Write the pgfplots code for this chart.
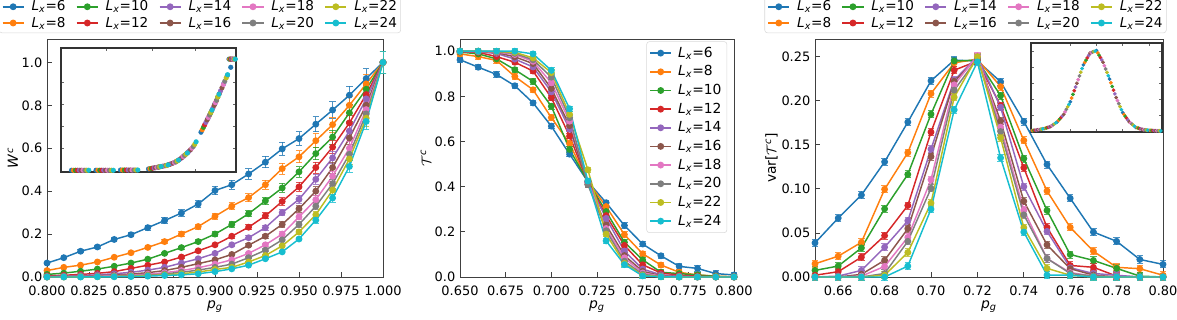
\documentclass[border=0pt]{standalone}
\usepackage{pgfplots}
\pgfplotsset{compat=1.18}
\usepackage{pgfplotstable}
\usepackage{fontspec}
\setmainfont{DejaVu Sans}
\definecolor{c0}{HTML}{1F77B4}
\definecolor{c1}{HTML}{FF7F0E}
\definecolor{c2}{HTML}{2CA02C}
\definecolor{c3}{HTML}{D62728}
\definecolor{c4}{HTML}{9467BD}
\definecolor{c5}{HTML}{8C564B}
\definecolor{c6}{HTML}{E377C2}
\definecolor{c7}{HTML}{7F7F7F}
\definecolor{c8}{HTML}{BCBD22}
\definecolor{c9}{HTML}{17BECF}

\newcommand{\Lx}[1]{\textit{L}\textsubscript{\textit{x}}=#1}

\pgfplotstableread{
x    a6    a8    a10   a12   a14   a16   a18   a20   a22   a24
0.80 0.065 0.030 0.012 0.005 0.003 0.001 0.000 0.000 0.000 0.000
0.81 0.090 0.045 0.018 0.008 0.004 0.002 0.001 0.001 0.000 0.000
0.82 0.120 0.055 0.027 0.012 0.007 0.004 0.002 0.001 0.001 0.000
0.83 0.140 0.070 0.037 0.017 0.010 0.006 0.004 0.002 0.001 0.001
0.84 0.175 0.092 0.050 0.025 0.015 0.009 0.006 0.004 0.002 0.001
0.85 0.197 0.113 0.065 0.040 0.022 0.014 0.009 0.006 0.004 0.002
0.86 0.230 0.138 0.083 0.055 0.032 0.020 0.013 0.009 0.006 0.004
0.87 0.263 0.165 0.110 0.070 0.045 0.030 0.020 0.014 0.010 0.007
0.88 0.298 0.200 0.137 0.093 0.065 0.045 0.030 0.022 0.015 0.010
0.89 0.340 0.235 0.165 0.122 0.085 0.062 0.043 0.032 0.023 0.015
0.90 0.403 0.283 0.200 0.150 0.110 0.080 0.060 0.045 0.035 0.025
0.91 0.430 0.330 0.245 0.190 0.150 0.105 0.080 0.060 0.045 0.038
0.92 0.480 0.370 0.295 0.232 0.183 0.148 0.110 0.090 0.070 0.055
0.93 0.535 0.430 0.355 0.285 0.230 0.190 0.150 0.125 0.100 0.085
0.94 0.597 0.505 0.415 0.352 0.300 0.245 0.200 0.173 0.145 0.117
0.95 0.645 0.560 0.490 0.420 0.362 0.318 0.280 0.245 0.210 0.177
0.96 0.712 0.635 0.575 0.510 0.455 0.400 0.360 0.330 0.290 0.265
0.97 0.778 0.710 0.652 0.605 0.555 0.510 0.470 0.435 0.405 0.368
0.98 0.847 0.800 0.765 0.718 0.680 0.648 0.600 0.572 0.550 0.515
0.99 0.925 0.900 0.875 0.850 0.830 0.800 0.780 0.760 0.740 0.725
1.00 1.000 1.000 1.000 1.000 1.000 1.000 1.000 1.000 1.000 1.000
}\tabW

\pgfplotstableread{
x    a6    a8    a10   a12   a14   a16   a18   a20   a22   a24
0.65 0.962 0.988 0.996 0.998 0.999 1.000 1.000 1.000 1.000 1.000
0.66 0.929 0.976 0.988 0.995 0.997 0.998 0.999 1.000 1.000 1.000
0.67 0.897 0.959 0.966 0.976 0.990 0.994 0.996 0.998 0.999 1.000
0.68 0.847 0.888 0.918 0.951 0.965 0.975 0.985 0.990 0.995 1.000
0.69 0.771 0.829 0.866 0.912 0.930 0.945 0.955 0.962 0.970 0.988
0.70 0.668 0.706 0.756 0.794 0.820 0.835 0.860 0.885 0.905 0.915
0.71 0.544 0.591 0.565 0.624 0.655 0.670 0.690 0.705 0.720 0.745
0.72 0.422 0.422 0.422 0.422 0.420 0.410 0.420 0.410 0.475 0.425
0.73 0.329 0.312 0.290 0.272 0.260 0.230 0.215 0.205 0.190 0.160
0.74 0.228 0.188 0.154 0.140 0.115 0.095 0.085 0.070 0.060 0.055
0.75 0.146 0.103 0.076 0.054 0.035 0.025 0.018 0.012 0.008 0.005
0.76 0.094 0.053 0.021 0.018 0.010 0.006 0.004 0.002 0.001 0.001
0.77 0.047 0.021 0.015 0.008 0.004 0.002 0.001 0.000 0.000 0.000
0.78 0.038 0.009 0.009 0.004 0.001 0.000 0.000 0.000 0.000 0.000
0.79 0.015 0.004 0.003 0.001 0.000 0.000 0.000 0.000 0.000 0.000
0.80 0.009 0.001 0.000 0.000 0.000 0.000 0.000 0.000 0.000 0.000
}\tabT

\pgfplotstableread{
x    a6     a8     a10    a12    a14    a16    a18    a20    a22    a24
0.65 0.0387 0.0150 0.0075 0.0020 0.0000 0.0000 0.0000 0.0000 0.0000 0.0000
0.66 0.0668 0.0236 0.0124 0.0060 0.0010 0.0000 0.0000 0.0000 0.0000 0.0000
0.67 0.0930 0.0394 0.0330 0.0225 0.0075 0.0030 0.0010 0.0000 0.0000 0.0000
0.68 0.1306 0.0995 0.0773 0.0469 0.0338 0.0190 0.0120 0.0040 0.0020 0.0000
0.69 0.1757 0.1410 0.1164 0.0811 0.0638 0.0548 0.0450 0.0405 0.0278 0.0124
0.70 0.2226 0.2080 0.1847 0.1644 0.1450 0.1366 0.1104 0.1006 0.0838 0.0770
0.71 0.2460 0.2430 0.2450 0.2346 0.2233 0.2220 0.2180 0.2120 0.2040 0.1896
0.72 0.2450 0.2470 0.2460 0.2450 0.2500 0.2480 0.2510 0.2480 0.2500 0.2440
0.73 0.2215 0.2160 0.2057 0.1944 0.1926 0.1770 0.1700 0.1650 0.1580 0.1351
0.74 0.1764 0.1550 0.1344 0.1239 0.1025 0.0860 0.0760 0.0705 0.0560 0.0510
0.75 0.1276 0.0976 0.0755 0.0563 0.0518 0.0365 0.0210 0.0210 0.0098 0.0022
0.76 0.0893 0.0563 0.0255 0.0131 0.0105 0.0094 0.0050 0.0040 0.0020 0.0020
0.77 0.0510 0.0293 0.0188 0.0110 0.0040 0.0022 0.0010 0.0010 0.0000 0.0000
0.78 0.0405 0.0110 0.0098 0.0010 0.0020 0.0000 0.0000 0.0000 0.0000 0.0000
0.79 0.0199 0.0094 0.0010 0.0000 0.0000 0.0000 0.0000 0.0000 0.0000 0.0000
0.80 0.0143 0.0020 0.0000 0.0000 0.0000 0.0000 0.0000 0.0000 0.0000 0.0000
}\tabV

\pgfplotsset{
  mainax/.style={
    scale only axis, height=178.5pt,
    tick align=inside, xtick pos=bottom, ytick pos=left,
    major tick length=3.5pt,
    axis line style={black!75, line width=0.6pt},
    every tick/.style={black!75, line width=0.6pt},
    /pgf/number format/assume math mode=true,
    ticklabel style={font=\fontsize{9.7}{12}\selectfont},
    xticklabel style={yshift=-3pt},
    label style={font=\fontsize{10.4}{12.5}\selectfont},
    xlabel={\textit{p}\textsubscript{\textit{g}}},
    xlabel style={yshift=3pt},
    clip=false,
    legend cell align=left,
    legend image code/.code={\draw[mark repeat=2,mark phase=2] plot coordinates {(0cm,0cm)(0.28cm,0cm)(0.56cm,0cm)};},
  },
  ser/.style={color=#1, mark=*, mark size=2pt, line width=1.1pt, mark options={solid}},
  serf/.style={ser=#1, forget plot},
  ebar/.style={error bars/.cd, y dir=both, #1,
    error bar style={line width=0.7pt, opacity=0.8},
    error mark options={rotate=90, mark size=2.4pt, line width=0.7pt, opacity=0.8}},
  toplegend/.style={legend columns=5,
    legend style={at={(#1,1.025)}, anchor=south, font=\fontsize{10.2}{12}\selectfont,
      draw=black!15, rounded corners=2pt, inner sep=2pt, row sep=1.5pt,
      nodes={inner sep=0.8pt},
      /tikz/every odd column/.append style={column sep=4.5pt},
      /tikz/every even column/.append style={column sep=7pt}}},
  inset/.style={scale only axis, xmin=0, xmax=1, ymin=-0.01, ymax=1.05,
    xticklabels={}, yticklabels={}, tick align=inside, major tick length=2pt,
    axis line style={black!80, line width=1pt}, every tick/.style={black!60, line width=0.4pt},
    axis background/.style={fill=white}, clip=false},
}

\newcommand{\toplegendentries}{%
\addlegendimage{ser=c0}\addlegendentry{\Lx{6}}
\addlegendimage{ser=c2}\addlegendentry{\Lx{10}}
\addlegendimage{ser=c4}\addlegendentry{\Lx{14}}
\addlegendimage{ser=c6}\addlegendentry{\Lx{18}}
\addlegendimage{ser=c8}\addlegendentry{\Lx{22}}
\addlegendimage{ser=c1}\addlegendentry{\Lx{8}}
\addlegendimage{ser=c3}\addlegendentry{\Lx{12}}
\addlegendimage{ser=c5}\addlegendentry{\Lx{16}}
\addlegendimage{ser=c7}\addlegendentry{\Lx{20}}
\addlegendimage{ser=c9}\addlegendentry{\Lx{24}}
}

\begin{document}
\begin{tikzpicture}
\useasboundingbox (-35.25pt,-32.25pt) rectangle (847.5pt,207.75pt);

% ---------------- Panel 1 ----------------
\begin{axis}[mainax, at={(0pt,0pt)}, anchor=south west, width=252pt,
  xmin=0.8, xmax=1.0, ymin=0, ymax=1.109,
  xtick={0.8,0.825,0.85,0.875,0.9,0.925,0.95,0.975,1.0},
  ytick={0,0.2,0.4,0.6,0.8,1.0},
  xticklabel style={/pgf/number format/.cd, fixed, fixed zerofill, precision=3},
  yticklabel style={/pgf/number format/.cd, fixed, fixed zerofill, precision=1},
  ylabel={\textit{W}\textsuperscript{\textit{c}}}, ylabel style={yshift=-4pt},
  toplegend=0.455]
\toplegendentries
\addplot[serf=c0, ebar={y fixed relative=0.05}] table[x=x,y=a6]{\tabW};
\addplot[serf=c1, ebar={y fixed relative=0.05}] table[x=x,y=a8]{\tabW};
\addplot[serf=c2, ebar={y fixed relative=0.05}] table[x=x,y=a10]{\tabW};
\addplot[serf=c3, ebar={y fixed relative=0.05}] table[x=x,y=a12]{\tabW};
\addplot[serf=c4, ebar={y fixed relative=0.05}] table[x=x,y=a14]{\tabW};
\addplot[serf=c5, ebar={y fixed relative=0.05}] table[x=x,y=a16]{\tabW};
\addplot[serf=c6, ebar={y fixed relative=0.05}] table[x=x,y=a18]{\tabW};
\addplot[serf=c7, ebar={y fixed relative=0.05}] table[x=x,y=a20]{\tabW};
\addplot[serf=c8, ebar={y fixed relative=0.05}] table[x=x,y=a22]{\tabW};
\addplot[serf=c9, ebar={y fixed relative=0.05}] table[x=x,y=a24]{\tabW};
\end{axis}

% inset 1
\begin{axis}[inset, at={(10.5pt,78.75pt)}, anchor=south west, width=131.25pt, height=93pt,
  xtick={0.26,0.52,0.77}, ytick={0.19,0.38,0.57,0.76}]
\pgfplotsset{every axis plot/.append style={only marks, mark=*, mark size=1.7pt}}
\addplot[c0] coordinates {(0.06,0.005)(0.20,0.005)(0.34,0.007)(0.50,0.016)(0.54,0.027)(0.60,0.045)(0.65,0.073)(0.70,0.125)(0.80,0.33)(0.84,0.45)(0.88,0.575)(0.93,0.745)(0.95,0.815)(0.97,0.885)(0.96,0.955)};
\addplot[c1] coordinates {(0.071,0.005)(0.211,0.005)(0.351,0.007)(0.508,0.018)(0.548,0.029)(0.608,0.049)(0.658,0.078)(0.708,0.135)(0.807,0.351)(0.847,0.471)(0.888,0.60)(0.964,0.955)};
\addplot[c2] coordinates {(0.082,0.005)(0.222,0.005)(0.362,0.007)(0.516,0.021)(0.556,0.032)(0.616,0.053)(0.666,0.086)(0.716,0.145)(0.814,0.372)(0.854,0.492)(0.896,0.631)(0.968,0.955)};
\addplot[c3] coordinates {(0.093,0.005)(0.233,0.005)(0.373,0.007)(0.524,0.023)(0.564,0.034)(0.624,0.057)(0.674,0.094)(0.724,0.156)(0.821,0.393)(0.861,0.513)(0.904,0.658)(0.972,0.955)};
\addplot[c4] coordinates {(0.104,0.005)(0.244,0.005)(0.384,0.007)(0.532,0.025)(0.572,0.037)(0.632,0.062)(0.682,0.102)(0.732,0.168)(0.828,0.414)(0.868,0.536)(0.912,0.684)(0.976,0.955)};
\addplot[c5] coordinates {(0.115,0.005)(0.255,0.005)(0.395,0.007)(0.540,0.027)(0.580,0.039)(0.640,0.066)(0.690,0.112)(0.740,0.180)(0.835,0.435)(0.875,0.559)(0.920,0.710)(0.980,0.955)};
\addplot[c6] coordinates {(0.126,0.005)(0.266,0.005)(0.406,0.007)(0.548,0.029)(0.588,0.041)(0.648,0.072)(0.698,0.122)(0.748,0.194)(0.842,0.456)(0.882,0.582)(0.928,0.738)(0.984,0.955)};
\addplot[c7] coordinates {(0.137,0.005)(0.277,0.005)(0.417,0.007)(0.556,0.032)(0.596,0.044)(0.656,0.077)(0.706,0.132)(0.756,0.208)(0.849,0.477)(0.889,0.603)(0.936,0.766)(0.988,0.955)};
\addplot[c8] coordinates {(0.148,0.005)(0.288,0.005)(0.428,0.007)(0.564,0.034)(0.604,0.047)(0.664,0.084)(0.714,0.142)(0.764,0.226)(0.856,0.498)(0.896,0.631)(0.944,0.794)(0.992,0.955)};
\addplot[c9] coordinates {(0.159,0.005)(0.299,0.005)(0.439,0.007)(0.572,0.037)(0.612,0.051)(0.672,0.092)(0.722,0.153)(0.772,0.248)(0.863,0.520)(0.903,0.655)(0.952,0.822)(0.996,0.955)};
\end{axis}

% ---------------- Panel 2 ----------------
\begin{axis}[mainax, at={(309.75pt,0pt)}, anchor=south west, width=205.5pt,
  xmin=0.65, xmax=0.80, ymin=0, ymax=1.054,
  xtick={0.65,0.675,0.7,0.725,0.75,0.775,0.8},
  ytick={0,0.2,0.4,0.6,0.8,1.0},
  xticklabel style={/pgf/number format/.cd, fixed, fixed zerofill, precision=3},
  yticklabel style={/pgf/number format/.cd, fixed, fixed zerofill, precision=1},
  ylabel={$\mathcal{T}$\textsuperscript{\textit{c}}}, ylabel style={yshift=-4pt},
  legend style={at={(0.975,0.99)}, anchor=north east, font=\fontsize{10.4}{12}\selectfont,
    draw=black!15, rounded corners=2pt, inner sep=2pt, row sep=0.8pt,
    /tikz/every odd column/.append style={column sep=2.5pt}}]
\addplot[ser=c0, ebar={y fixed=0.012}] table[x=x,y=a6]{\tabT}; \addlegendentry{\Lx{6}}
\addplot[ser=c1, ebar={y fixed=0.012}] table[x=x,y=a8]{\tabT}; \addlegendentry{\Lx{8}}
\addplot[ser=c2, ebar={y fixed=0.012}] table[x=x,y=a10]{\tabT}; \addlegendentry{\Lx{10}}
\addplot[ser=c3, ebar={y fixed=0.012}] table[x=x,y=a12]{\tabT}; \addlegendentry{\Lx{12}}
\addplot[ser=c4, ebar={y fixed=0.012}] table[x=x,y=a14]{\tabT}; \addlegendentry{\Lx{14}}
\addplot[ser=c5, ebar={y fixed=0.012}] table[x=x,y=a16]{\tabT}; \addlegendentry{\Lx{16}}
\addplot[ser=c6, ebar={y fixed=0.012}] table[x=x,y=a18]{\tabT}; \addlegendentry{\Lx{18}}
\addplot[ser=c7, ebar={y fixed=0.012}] table[x=x,y=a20]{\tabT}; \addlegendentry{\Lx{20}}
\addplot[ser=c8, ebar={y fixed=0.012}] table[x=x,y=a22]{\tabT}; \addlegendentry{\Lx{22}}
\addplot[ser=c9, ebar={y fixed=0.012}] table[x=x,y=a24]{\tabT}; \addlegendentry{\Lx{24}}
\end{axis}

% ---------------- Panel 3 ----------------
\begin{axis}[mainax, at={(576pt,0pt)}, anchor=south west, width=261pt,
  xmin=0.65, xmax=0.80, ymin=0, ymax=0.270,
  xtick={0.66,0.68,0.7,0.72,0.74,0.76,0.78,0.8},
  ytick={0,0.05,0.1,0.15,0.2,0.25},
  xticklabel style={/pgf/number format/.cd, fixed, fixed zerofill, precision=2},
  yticklabel style={/pgf/number format/.cd, fixed, fixed zerofill, precision=2},
  ylabel={var[$\mathcal{T}$\textsuperscript{\textit{c}}]}, ylabel style={yshift=-4pt},
  toplegend=0.4325]
\toplegendentries
\addplot[serf=c0, ebar={y fixed=0.004}] table[x=x,y=a6]{\tabV};
\addplot[serf=c1, ebar={y fixed=0.004}] table[x=x,y=a8]{\tabV};
\addplot[serf=c2, ebar={y fixed=0.004}] table[x=x,y=a10]{\tabV};
\addplot[serf=c3, ebar={y fixed=0.004}] table[x=x,y=a12]{\tabV};
\addplot[serf=c4, ebar={y fixed=0.004}] table[x=x,y=a14]{\tabV};
\addplot[serf=c5, ebar={y fixed=0.004}] table[x=x,y=a16]{\tabV};
\addplot[serf=c6, ebar={y fixed=0.004}] table[x=x,y=a18]{\tabV};
\addplot[serf=c7, ebar={y fixed=0.004}] table[x=x,y=a20]{\tabV};
\addplot[serf=c8, ebar={y fixed=0.004}] table[x=x,y=a22]{\tabV};
\addplot[serf=c9, ebar={y fixed=0.004}] table[x=x,y=a24]{\tabV};
\end{axis}

% inset 3
\begin{axis}[inset, at={(738pt,108.75pt)}, anchor=south west, width=98.25pt, height=66.75pt,
  xtick={0.3,0.5,0.7,0.9}, ytick={0.19,0.38,0.57,0.76,0.95}]
\pgfplotsset{every axis plot/.append style={only marks, mark=*, mark size=1.2pt}}
\addplot[c0] coordinates {(0.00,0.005)(0.10,0.030)(0.20,0.110)(0.30,0.350)(0.40,0.790)(0.50,0.960)(0.60,0.620)(0.70,0.220)(0.80,0.045)(0.90,0.010)};
\addplot[c1] coordinates {(0.01,0.007)(0.11,0.035)(0.21,0.128)(0.31,0.394)(0.41,0.818)(0.51,0.932)(0.61,0.576)(0.71,0.198)(0.81,0.040)(0.91,0.009)};
\addplot[c2] coordinates {(0.02,0.009)(0.12,0.040)(0.22,0.146)(0.32,0.438)(0.42,0.846)(0.52,0.904)(0.62,0.532)(0.72,0.176)(0.82,0.035)(0.92,0.008)};
\addplot[c3] coordinates {(0.03,0.011)(0.13,0.045)(0.23,0.164)(0.33,0.482)(0.43,0.874)(0.53,0.876)(0.63,0.488)(0.73,0.154)(0.83,0.030)(0.93,0.007)};
\addplot[c4] coordinates {(0.04,0.013)(0.14,0.050)(0.24,0.182)(0.34,0.526)(0.44,0.902)(0.54,0.848)(0.64,0.444)(0.74,0.132)(0.84,0.025)(0.94,0.006)};
\addplot[c5] coordinates {(0.05,0.015)(0.15,0.055)(0.25,0.200)(0.35,0.570)(0.45,0.930)(0.55,0.820)(0.65,0.400)(0.75,0.110)(0.85,0.020)(0.95,0.005)};
\addplot[c6] coordinates {(0.06,0.018)(0.16,0.066)(0.26,0.230)(0.36,0.614)(0.46,0.936)(0.56,0.780)(0.66,0.364)(0.76,0.097)(0.86,0.018)(0.96,0.005)};
\addplot[c7] coordinates {(0.07,0.021)(0.17,0.077)(0.27,0.260)(0.37,0.658)(0.47,0.942)(0.57,0.740)(0.67,0.328)(0.77,0.084)(0.87,0.016)(0.97,0.004)};
\addplot[c8] coordinates {(0.08,0.024)(0.18,0.088)(0.28,0.290)(0.38,0.702)(0.48,0.948)(0.58,0.700)(0.68,0.292)(0.78,0.071)(0.88,0.014)(0.98,0.004)};
\addplot[c9] coordinates {(0.09,0.027)(0.19,0.099)(0.29,0.320)(0.39,0.746)(0.49,0.954)(0.59,0.660)(0.69,0.256)(0.79,0.058)(0.89,0.012)(0.99,0.003)};
\end{axis}
\end{tikzpicture}
\end{document}
